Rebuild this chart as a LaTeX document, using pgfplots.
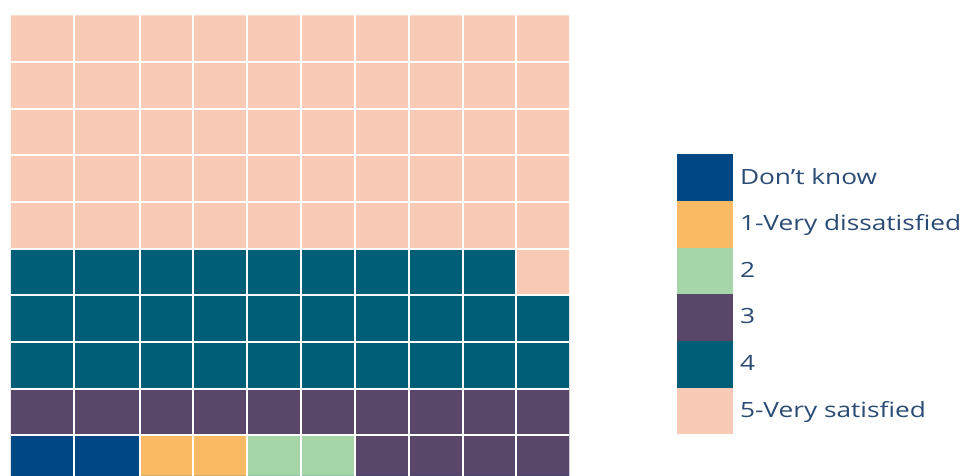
\documentclass[border=0pt]{standalone}
\usepackage{pgfplots}
\usepackage{pgfplotstable}
\pgfplotsset{compat=1.18}
\usepackage{fontspec}
\setmainfont{Open Sans}
\newfontfamily\legendfont{Open Sans}[FakeStretch=1.25]

\definecolor{dkblue}{RGB}{0,72,132}
\definecolor{vdis}{RGB}{249,186,102}
\definecolor{two}{RGB}{166,213,170}
\definecolor{three}{RGB}{89,71,106}
\definecolor{four}{RGB}{0,95,118}
\definecolor{vsat}{RGB}{249,203,182}
\definecolor{labeltext}{RGB}{42,75,116}

% Waffle of 100 answers: for every column (left edge x) the number of
% cells of each answer, stacked from the bottom row upwards.
\pgfplotstableread{
x    dk vd two three four five
11   1  0  0   1     3    5
74   1  0  0   1     3    5
140  0  1  0   1     3    5
193  0  1  0   1     3    5
247  0  0  1   1     3    5
301  0  0  1   1     3    5
355  0  0  0   2     3    5
409  0  0  0   2     3    5
463  0  0  0   2     3    5
516  0  0  0   2     2    6
569  0  0  0   0     0    0
}\cells

\pgfplotsset{
  wcell/.style={ybar interval, fill=#1, draw=none,
    legend image code/.code={\fill[fill=#1] (0pt,-11.667pt) rectangle (28pt,11.667pt);}},
}

\begin{document}
\begin{tikzpicture}
\path[use as bounding box] (0,0) rectangle (482pt,238pt);
\begin{axis}[
  at={(5.5pt,0pt)}, anchor=south west,
  scale only axis, width=279pt, height=230.35pt,
  xmin=11, xmax=569, ymin=0.128, ymax=10,
  stack plots=y,
  axis line style={draw=none},
  major tick length=0pt,
  xtick={74,140,193,247,301,355,409,463,516},
  ytick={1,2,3,4,5,6,7,8,9},
  xticklabels={}, yticklabels={},
  grid=major,
  grid style={white, line width=1pt},
  axis on top,
  legend cell align=left,
  legend style={at={(axis cs:677,7.02)}, anchor=north west,
    draw=none, fill=none, inner sep=0pt, outer sep=0pt,
    row sep=0pt, column sep=0pt,
    font=\legendfont\fontsize{10.5}{12}\selectfont, text=labeltext,
    nodes={inner xsep=3.5pt, inner ysep=0pt}},
]
\addplot[wcell=dkblue] table[x=x, y=dk] {\cells};
\addplot[wcell=vdis]   table[x=x, y=vd] {\cells};
\addplot[wcell=two]    table[x=x, y=two] {\cells};
\addplot[wcell=three]  table[x=x, y=three] {\cells};
\addplot[wcell=four]   table[x=x, y=four] {\cells};
\addplot[wcell=vsat]   table[x=x, y=five] {\cells};
\legend{Don’t know, 1-Very dissatisfied, 2, 3, 4, 5-Very satisfied}
\end{axis}
\end{tikzpicture}
\end{document}
